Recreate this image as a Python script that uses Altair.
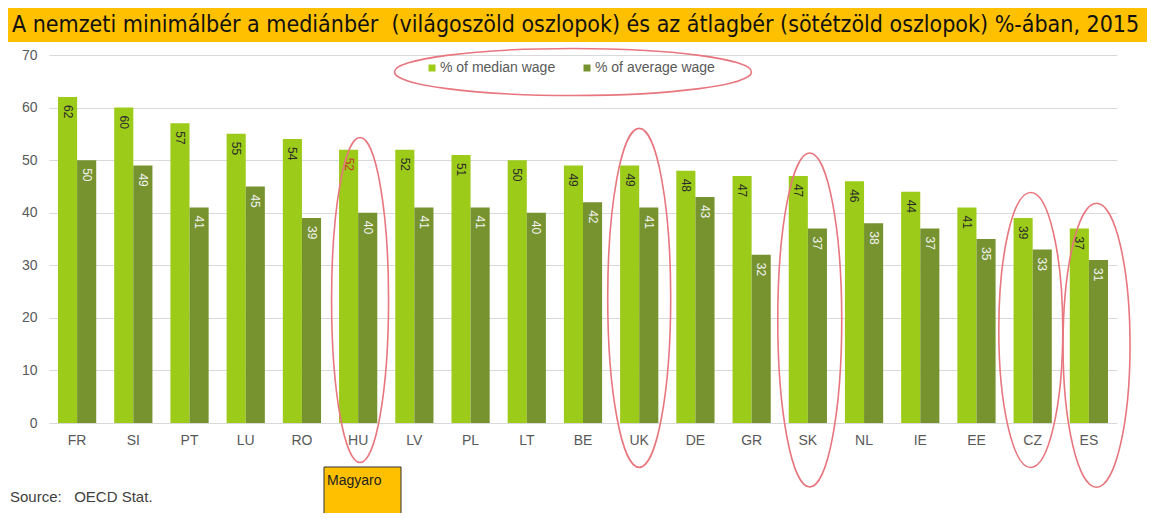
import altair as alt
import pandas as pd

# ---------------- data ----------------
countries = ["FR", "SI", "PT", "LU", "RO", "HU", "LV", "PL", "LT", "BE",
             "UK", "DE", "GR", "SK", "NL", "IE", "EE", "CZ", "ES"]
median_wage = [62, 60, 57, 55, 54, 52, 52, 51, 50, 49, 49, 48, 47, 47, 46, 44, 41, 39, 37]
average_wage = [50, 49, 41, 45, 39, 40, 41, 41, 40, 42, 41, 43, 32, 37, 38, 37, 35, 33, 31]
series_names = ["% of median wage", "% of average wage"]
y_ticks = [0, 10, 20, 30, 40, 50, 60, 70]

title_text = "A nemzeti minimálbér a mediánbér\u00a0 (világoszöld oszlopok) és az átlagbér (sötétzöld oszlopok) %-ában, 2015"
source_text = "Source:\u00a0\u00a0 OECD Stat."
note_text = "Magyaro"

# hand-drawn highlight ellipses
highlight_countries = ["HU", "UK", "SK", "CZ", "ES"]
highlight_centre = [23.4, 23.8, 19.6, 17.7, 14.8]   # centre, in axis units
highlight_band = [0.55, 0.5, 0.55, 0.45, 0.70]      # position across the country's band
highlight_height = [325, 339, 334, 275, 284]        # px
highlight_width = [57, 63, 64, 64, 67]              # px

# ---------------- styles ----------------
series_colors = ["#9DCB19", "#76932F"]
ellipse_color = "#E8767E"
orange = "#FFC000"
grey_text = "#595959"
FONT = "Liberation Sans"


def ellipse_path(ratio):
    k = 0.5523
    r = ratio
    f = lambda v: f"{v:.4f}"
    return (f"M0,-1C{f(k*r)},-1,{f(r)},{f(-k)},{f(r)},0"
            f"C{f(r)},{f(k)},{f(k*r)},1,0,1"
            f"C{f(-k*r)},1,{f(-r)},{f(k)},{f(-r)},0"
            f"C{f(-r)},{f(-k)},{f(-k*r)},-1,0,-1Z")


rows = []
for c, m, a in zip(countries, median_wage, average_wage):
    rows.append({"country": c, "series": series_names[0], "value": m})
    rows.append({"country": c, "series": series_names[1], "value": a})
df = pd.DataFrame(rows)

x_enc = alt.X("country:N", sort=countries,
              scale=alt.Scale(paddingInner=0.32, paddingOuter=0.16),
              axis=alt.Axis(title=None, domain=False, ticks=False, labelAngle=0,
                            labelPadding=10, labelFontSize=14, labelColor=grey_text,
                            labelFont=FONT))
y_enc = alt.Y("value:Q", scale=alt.Scale(domain=[0, 70], nice=False),
              axis=alt.Axis(title=None, domain=False, ticks=False, values=y_ticks,
                            gridColor="#D9D9D9", labelPadding=12, labelFontSize=14,
                            labelColor=grey_text, labelFont=FONT))
xo_enc = alt.XOffset("series:N", sort=series_names,
                     scale=alt.Scale(paddingInner=0, paddingOuter=0))

bars = alt.Chart(df).mark_bar().encode(
    x=x_enc,
    xOffset=xo_enc,
    y=y_enc,
    color=alt.Color("series:N", sort=series_names,
                    scale=alt.Scale(domain=series_names, range=series_colors),
                    legend=alt.Legend(title=None, orient="none", direction="horizontal",
                                      legendX=376, legendY=6, symbolType="square",
                                      symbolSize=49, symbolStrokeWidth=0,
                                      labelFontSize=14, labelColor=grey_text,
                                      labelFont=FONT, labelOffset=1,
                                      columnPadding=24)),
)

label_color = (
    alt.when((alt.datum.series == series_names[0]) & (alt.datum.country == "HU"))
    .then(alt.value("#C0392B"))
    .when(alt.datum.series == series_names[0])
    .then(alt.value("#2B2B2B"))
    .otherwise(alt.value("#F2F2F2"))
)

labels = alt.Chart(df).mark_text(angle=90, align="left", baseline="middle",
                                 dx=8, fontSize=12, font=FONT).encode(
    x=alt.X("country:N", sort=countries),
    xOffset=alt.XOffset("series:N", sort=series_names),
    y=alt.Y("value:Q"),
    text=alt.Text("value:Q"),
    color=label_color,
)

ellipse_layers = []
for c, cy, bp, h, w in zip(highlight_countries, highlight_centre, highlight_band,
                           highlight_height, highlight_width):
    ellipse_layers.append(
        alt.Chart(alt.Data(values=[{"country": c, "cy": cy}])).mark_point(
            filled=False, color=ellipse_color, strokeWidth=1.6, opacity=1,
            shape=ellipse_path(w / h), size=h * h).encode(
            x=alt.X("country:N", sort=countries, bandPosition=bp),
            y=alt.Y("cy:Q"),
        )
    )

legend_ellipse = alt.Chart(alt.Data(values=[{"k": 1}])).mark_point(
    filled=False, color=ellipse_color, strokeWidth=1.6, opacity=1,
    shape=ellipse_path(357 / 47)).encode(
    x=alt.value(524), y=alt.value(17), size=alt.value(47 * 47))

title_bar = alt.Chart(alt.Data(values=[{"k": 1}])).mark_rect(color=orange).encode(
    x=alt.value(-41), x2=alt.value(1101), y=alt.value(-47), y2=alt.value(-13))

title = alt.Chart(alt.Data(values=[{"t": title_text}])).mark_text(
    align="left", baseline="middle", fontSize=23, color="#111111",
    font="Liberation Sans Narrow, DejaVu Sans Condensed, Roboto Condensed, sans-serif").encode(
    x=alt.value(-37), y=alt.value(-30), text="t:N")

note_box = alt.Chart(alt.Data(values=[{"k": 1}])).mark_rect(
    color=orange, stroke="#333333", strokeWidth=1).encode(
    x=alt.value(275), x2=alt.value(352), y=alt.value(412), y2=alt.value(470))

note = alt.Chart(alt.Data(values=[{"t": note_text}])).mark_text(
    align="left", baseline="middle", fontSize=14, color="#222222", font=FONT).encode(
    x=alt.value(278), y=alt.value(426), text="t:N")

source = alt.Chart(alt.Data(values=[{"t": source_text}])).mark_text(
    align="left", baseline="middle", fontSize=15, color="#404040", font=FONT).encode(
    x=alt.value(-39), y=alt.value(442), text="t:N")

chart = alt.layer(
    title_bar, title, bars, labels, *ellipse_layers, legend_ellipse, note_box, note, source
).properties(
    width=1068, height=368,
    autosize=alt.AutoSizeParams(type="none"),
    padding={"left": 41, "top": 47, "right": 30, "bottom": 90},
).configure_view(stroke=None)

chart.save("out.html", embed_options={"renderer": "svg", "actions": False})
